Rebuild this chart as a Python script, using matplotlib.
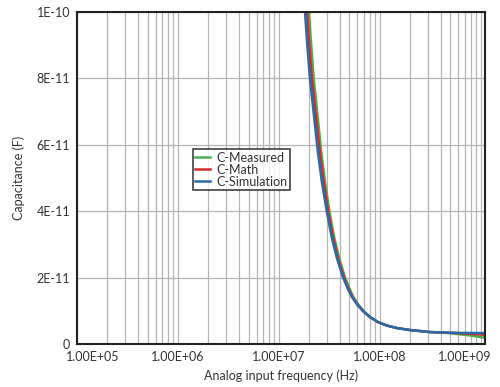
#!/usr/bin/env python3

import matplotlib
matplotlib.use('Agg')
import matplotlib.pyplot as plt
from matplotlib.ticker import LogLocator, NullFormatter, FixedLocator
from matplotlib.transforms import ScaledTranslation

# frequency (Hz) and capacitance (F)
freq_sim = [1.809e7, 1.894e7, 2.028e7, 2.221e7, 2.433e7, 2.666e7, 2.987e7, 3.348e7,
            3.753e7, 4.302e7, 4.823e7, 5.283e7, 5.920e7, 6.786e7, 7.962e7, 9.555e7,
            1.173e8, 1.473e8, 1.982e8, 3.126e8, 5.53e8, 1.096e9]
cap_sim = [1.006e-10, 9.16e-11, 8.01e-11, 6.90e-11, 5.78e-11, 4.88e-11, 3.98e-11, 3.19e-11,
           2.59e-11, 2.02e-11, 1.66e-11, 1.42e-11, 1.20e-11, 9.94e-12, 8.13e-12, 6.63e-12,
           5.57e-12, 4.82e-12, 4.22e-12, 3.61e-12, 3.37e-12, 3.31e-12]

freq_math = [1.89e7, 1.98e7, 2.12e7, 2.32e7, 2.54e7, 2.78e7, 3.08e7, 3.45e7,
             3.84e7, 4.40e7, 4.90e7, 5.35e7, 5.98e7, 6.82e7, 7.96e7, 9.555e7,
             1.173e8, 1.473e8, 1.982e8, 3.126e8, 5.53e8, 1.096e9]
cap_math = [1.006e-10, 9.16e-11, 8.01e-11, 6.90e-11, 5.78e-11, 4.88e-11, 3.98e-11, 3.19e-11,
            2.59e-11, 2.02e-11, 1.66e-11, 1.42e-11, 1.20e-11, 9.94e-12, 8.13e-12, 6.63e-12,
            5.57e-12, 4.82e-12, 4.22e-12, 3.61e-12, 3.33e-12, 2.8e-12]

freq_meas = [1.98e7, 2.07e7, 2.21e7, 2.41e7, 2.63e7, 2.86e7, 3.17e7, 3.54e7,
             3.95e7, 4.50e7, 5.02e7, 5.45e7, 6.06e7, 6.9e7, 8.05e7, 9.6e7,
             1.176e8, 1.473e8, 1.982e8, 3.126e8, 4.3e8, 5.53e8, 7.8e8, 1.096e9]
cap_meas = [1.006e-10, 9.16e-11, 8.01e-11, 6.90e-11, 5.78e-11, 4.88e-11, 3.98e-11, 3.19e-11,
            2.59e-11, 2.02e-11, 1.66e-11, 1.42e-11, 1.20e-11, 9.94e-12, 8.13e-12, 6.63e-12,
            5.57e-12, 4.82e-12, 4.22e-12, 3.61e-12, 3.4e-12, 3.1e-12, 2.6e-12, 1.9e-12]

x_ticks = [1e5, 1e6, 1e7, 1e8, 1e9]
x_labels = ['1.00E+05', '1.00E+06', '1.00E+07', '1.00E+08', '1.00E+09']
y_ticks = [0, 2e-11, 4e-11, 6e-11, 8e-11, 1e-10]
y_labels = ['0', '2E-11', '4E-11', '6E-11', '8E-11', '1E-10']


def main():
    plt.rcParams['font.family'] = ['Lato', 'DejaVu Sans']
    fig = plt.figure(figsize=(5, 3.87), dpi=100)
    ax = fig.add_axes([0.154, 0.111, 0.816, 0.858])

    ax.plot(freq_meas, cap_meas, color='#4cae4f', lw=1.8, label='C-Measured')
    ax.plot(freq_math, cap_math, color='#d42a2a', lw=1.8, label='C-Math')
    ax.plot(freq_sim, cap_sim, color='#2a6aa8', lw=1.8, label='C-Simulation')

    ax.set_xscale('log')
    ax.set_xlim(1e5, 1.1e9)
    ax.set_ylim(0, 1e-10)

    ax.xaxis.set_major_locator(FixedLocator(x_ticks))
    ax.set_xticklabels(x_labels)
    ax.xaxis.set_minor_locator(LogLocator(base=10, subs=range(2, 10), numticks=20))
    ax.xaxis.set_minor_formatter(NullFormatter())
    ax.set_yticks(y_ticks)
    ax.set_yticklabels(y_labels)

    ax.grid(True, which='both', axis='x', color='#b5b5b5', lw=0.9)
    ax.grid(True, which='major', axis='y', color='#b5b5b5', lw=0.9)
    ax.set_axisbelow(True)
    ax.tick_params(which='both', length=0, labelsize=9, labelcolor='#333333', pad=5)

    for s in ax.spines.values():
        s.set_linewidth(1.5)
        s.set_color('#222222')

    labels = ax.get_xticklabels()
    labels[0].set_transform(labels[0].get_transform() + ScaledTranslation(0.16, 0, fig.dpi_scale_trans))
    labels[-1].set_transform(labels[-1].get_transform() + ScaledTranslation(-0.16, 0, fig.dpi_scale_trans))

    ax.set_xlabel('Analog input frequency (Hz)', fontsize=9, color='#333333', labelpad=5)
    ax.set_ylabel('Capacitance (F)', fontsize=9, color='#333333', labelpad=8)

    leg = ax.legend(loc='upper left', bbox_to_anchor=(0.284, 0.587), fontsize=9,
                    frameon=True, fancybox=False, handlelength=1.2, handletextpad=0.5,
                    borderpad=0.2, labelspacing=0.0, borderaxespad=0)
    leg.get_frame().set_edgecolor('#111111')
    leg.get_frame().set_linewidth(1.2)
    for t in leg.get_texts():
        t.set_color('#333333')

    fig.savefig('out.png', dpi=100)


if __name__ == '__main__':
    main()
